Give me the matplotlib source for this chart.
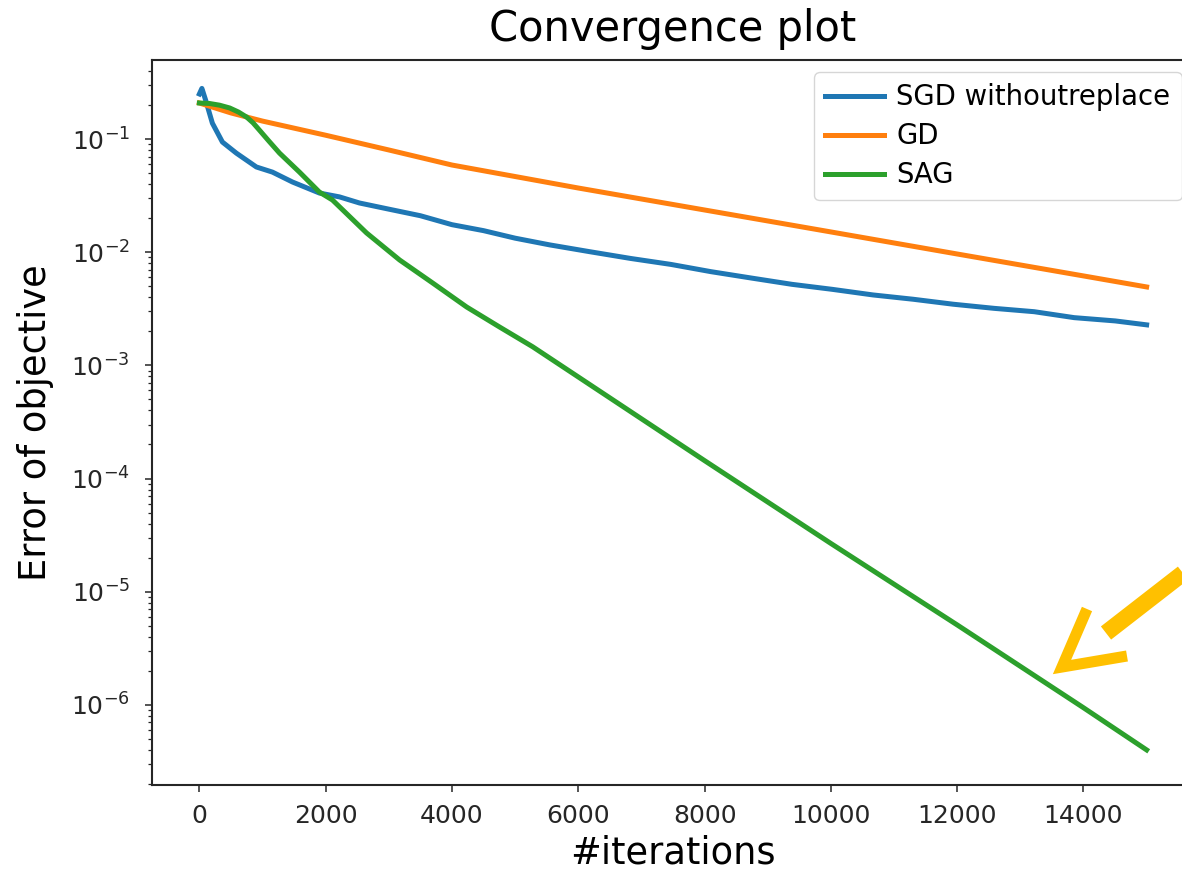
import matplotlib
matplotlib.use("Agg")
import matplotlib.pyplot as plt
from matplotlib.lines import Line2D

# iteracoes e erro
sgd_iter = [0, 40, 100, 206, 365, 586, 903, 1157, 1474, 1902, 2219, 2536, 3000, 3500,
            4000, 4500, 5000, 5548, 6182, 6831, 7466, 8100, 8749, 9383, 10017, 10667,
            11301, 11936, 12585, 13219, 13853, 14503, 15000]
sgd_err = [0.25, 0.28, 0.22, 0.138, 0.094, 0.075, 0.0566, 0.051, 0.0417, 0.0333, 0.0308,
           0.0272, 0.024, 0.021, 0.0175, 0.0155, 0.0133, 0.0116, 0.0101, 0.0088, 0.0078,
           0.00673, 0.00590, 0.0052, 0.0047, 0.00419, 0.00384, 0.00347, 0.00319, 0.00298,
           0.00264, 0.00247, 0.00228]

gd_iter = [0, 500, 1000, 2000, 3000, 4000, 6000, 8000, 10000, 12000, 14000, 15000]
gd_err = [0.208, 0.170, 0.144, 0.108, 0.080, 0.0589, 0.0369, 0.0236, 0.0151, 0.00964,
          0.00617, 0.00493]

sag_iter = [0, 160, 320, 480, 620, 750, 850, 950, 1100, 1270, 1585, 1900, 2108, 2647, 3170,
            3693, 4232, 4755, 5278, 6000, 8000, 10000, 12000, 14000, 15000]
sag_err = [0.208, 0.206, 0.199, 0.188, 0.173, 0.156, 0.139, 0.120, 0.096, 0.075, 0.051,
           0.034, 0.0289, 0.0148, 0.00854, 0.00535, 0.00328, 0.00218, 0.00146, 7.9e-4,
           1.44e-4, 2.67e-5, 5.09e-6, 9.44e-7, 4.0e-7]

W, H = 1182, 873
fig = plt.figure(figsize=(W / 100, H / 100), dpi=100)
# o eixo passa da borda direita (imagem original cortada)
ax = fig.add_axes([152 / W, 88 / H, 1042 / W, 725 / H])

ax.plot(sgd_iter, sgd_err, label="SGD withoutreplace", linewidth=3.6, color="#1f77b4")
ax.plot(gd_iter, gd_err, label="GD", linewidth=3.6, color="#ff7f0e")
ax.plot(sag_iter, sag_err, label="SAG", linewidth=3.6, color="#2ca02c")

ax.set_yscale("log")
ax.set_xlim(-750, 15750)
ax.set_ylim(1.96e-7, 0.499)
ax.set_xticks([0, 2000, 4000, 6000, 8000, 10000, 12000, 14000])

ax.set_title("Convergence plot", fontsize=30, pad=14)
ax.set_xlabel("#iterations", fontsize=26.5, labelpad=5)
ax.set_ylabel("Error of objective", fontsize=26.5, labelpad=12)

ax.tick_params(axis="both", which="major", labelsize=18, length=5, width=1.1, pad=8.5,
               colors="#262626", labelcolor="#262626")
ax.tick_params(axis="y", which="major", pad=11)
ax.tick_params(axis="both", which="minor", length=3, width=0.9, colors="#262626")
for s in ax.spines.values():
    s.set_linewidth(1.5)
    s.set_color("#262626")

ax.legend(loc="upper right", fontsize=19.8, handlelength=2.15, handletextpad=0.45,
          borderaxespad=0.45, labelspacing=0.4)

# seta amarela desenhada por cima (coordenadas em pixels da figura)
def px(xs, ys):
    return [x / W for x in xs], [1 - y / H for y in ys]

sx, sy = px([1200, 1106], [560, 633])
fig.add_artist(Line2D(sx, sy, color="#FFC000", linewidth=12, solid_capstyle="butt"))
hx, hy = px([1087, 1062, 1127], [609, 667, 656])
fig.add_artist(Line2D(hx, hy, color="#FFC000", linewidth=8, solid_capstyle="butt",
                      solid_joinstyle="miter"))

fig.savefig("out.png", dpi=100)
